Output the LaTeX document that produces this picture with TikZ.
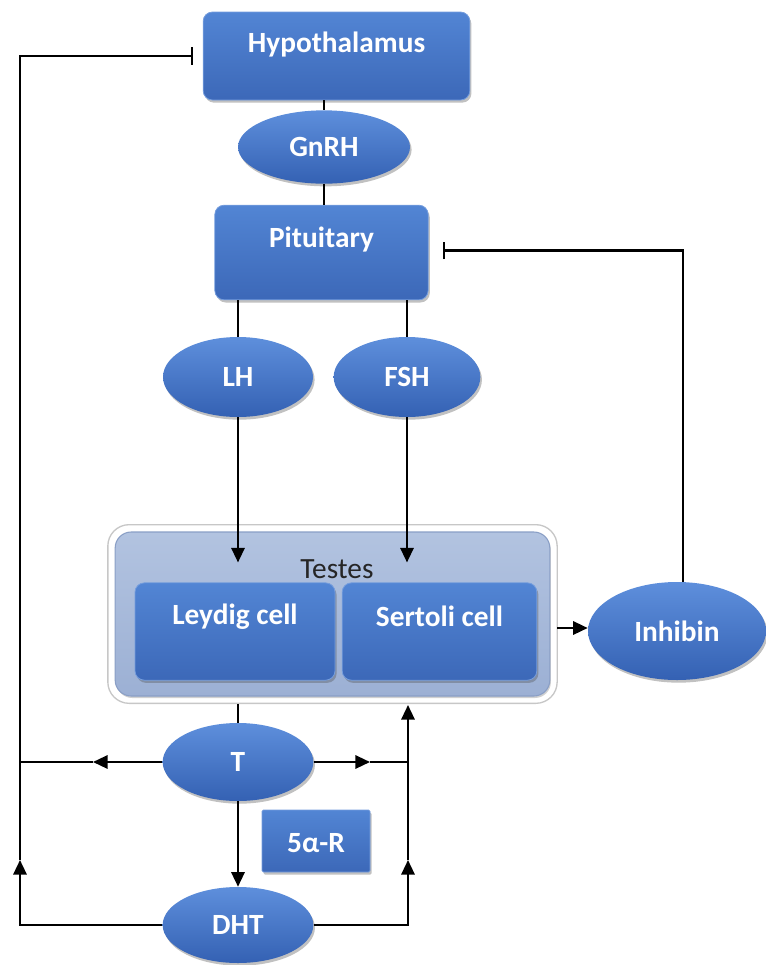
\documentclass[tikz,border=0pt]{standalone}
\usepackage{fontspec}
\setmainfont{Carlito}
\usetikzlibrary{arrows.meta,shapes.geometric,shadows,calc}

\definecolor{btop}{HTML}{5285D4}
\definecolor{bbot}{HTML}{3C68B8}
\definecolor{etop}{HTML}{5E8FDC}
\definecolor{ebot}{HTML}{3461B3}
\definecolor{ttop}{HTML}{B2C3E0}
\definecolor{tbot}{HTML}{9CB0D4}
\definecolor{tedge}{HTML}{8A9FC6}

\begin{document}
\begin{tikzpicture}[x=0.75pt,y=-0.75pt,
  shadowed/.style={drop shadow={opacity=0.35,shadow xshift=1.2pt,shadow yshift=-2pt,fill=black!70}},
  box/.style={rectangle,rounded corners=7pt,draw=btop!80!white,line width=0.6pt,
    top color=btop,bottom color=bbot,inner sep=0pt,shadowed},
  oval/.style={ellipse,draw=none,top color=etop,bottom color=ebot,inner sep=0pt,
    text=white,font=\bfseries\fontsize{22}{26}\selectfont,shadowed},
  btxt/.style={text=white,font=\bfseries\fontsize{22}{26}\selectfont,inner sep=0pt},
  line/.style={draw=black,line width=1.7pt},
  arr/.style={line,-{Triangle[length=11pt,width=10pt]}},
  inh/.style={line,-{Bar[width=13pt,line width=1.7pt]}}
]
\useasboundingbox (0,0) rectangle (766,965);

% testes compartment: white frame with a soft grey rim, blue-grey panel inside
\node[rectangle,rounded corners=16pt,draw=black!22,line width=1pt,fill=white,
  minimum width=337pt,minimum height=134pt] (testes) at (332.5,614) {};
\node[rectangle,rounded corners=12pt,draw=tedge,line width=0.8pt,
  top color=ttop,bottom color=tbot,minimum width=326pt,minimum height=123pt,
  drop shadow={opacity=0.3,shadow xshift=0.8pt,shadow yshift=-1.5pt,fill=black!60}]
  (testespanel) at (332.5,614) {};
\node[text=black!85,font=\fontsize{22}{26}\selectfont,inner sep=0pt] (testestext) at (337,569) {Testes};

% boxes
\node[box,minimum width=200pt,minimum height=66pt] (hyp) at (336.5,56) {};
\node[btxt] (hyptext) at ($(hyp.north)+(0,33)$) {Hypothalamus};

\node[box,minimum width=160pt,minimum height=71pt] (pit) at (321.5,252.5) {};
\node[btxt] (pittext) at ($(pit.north)+(0,35)$) {Pituitary};

\node[box,minimum width=150pt,minimum height=73pt] (leydig) at (235,631.5) {};
\node[btxt] (leydigtext) at ($(leydig.north)+(0,34)$) {Leydig cell};

\node[box,minimum width=146pt,minimum height=73pt] (sertoli) at (439.5,631.5) {};
\node[btxt] (sertolitext) at ($(sertoli.north)+(0,34)$) {Sertoli cell};

\node[box,rounded corners=1pt,minimum width=81pt,minimum height=46.5pt] (red) at (316,841) {};
\node[btxt] (redtext) at (316,843) {5α-R};

% hormones
\node[oval,minimum width=129pt,minimum height=55pt] (gnrh) at (324,147) {GnRH};
\node[oval,minimum width=112.5pt,minimum height=60pt] (lh) at (238,377) {LH};
\node[oval,minimum width=110pt,minimum height=60pt] (fsh) at (407,377) {FSH};
\node[oval,minimum width=133.5pt,minimum height=73.5pt] (inhibin) at (677,631) {Inhibin};
\node[oval,minimum width=113pt,minimum height=58.5pt] (t) at (238,762) {T};
\node[oval,minimum width=113pt,minimum height=57pt] (dht) at (238,925) {DHT};

% junction points
\coordinate (lup) at (20,860);
\coordinate (tl) at (93,762);
\coordinate (tr) at (370,762);
\coordinate (rup) at (408,860);
\coordinate (hypbar) at ($(hyp.west)+(-10,0)$);
\coordinate (pitbar) at ($(pit.east)+(14,-2)$);
\coordinate (tout) at (557,628);

% axis
\draw[line] (hyp.south -| gnrh.north) -- (gnrh.north);
\draw[line] (gnrh.south) -- (gnrh.south |- pit.north);
\draw[line] (pit.south -| lh.north) -- (lh.north);
\draw[line] (pit.south -| fsh.north) -- (fsh.north);
\draw[arr,shorten >=15pt] (lh.south) -- (lh.south |- leydig.north);
\draw[arr,shorten >=15pt] (fsh.south) -- (fsh.south |- sertoli.north);
\draw[arr] (tout) -- (tout -| inhibin.west);
\draw[inh] (inhibin.north -| 683,0) |- (pitbar);

% testosterone and DHT feedback
\draw[line] (testes.south -| t.north) -- (t.north);
\draw[arr] (t.south) -- (dht.north);
\draw[arr] (t.west) -- (tl);
\draw[line] (tl) -- (tl -| lup);
\draw[arr] (t.east) -- (tr);
\draw[line] (tr) -- (tr -| rup);
\draw[arr] (dht.west) -| (lup);
\draw[inh] (lup) |- (hypbar);
\draw[arr] (dht.east) -| (rup);
\draw[arr] (rup) -- ($(rup |- testes.south)+(0,1)$);
\end{tikzpicture}
\end{document}
